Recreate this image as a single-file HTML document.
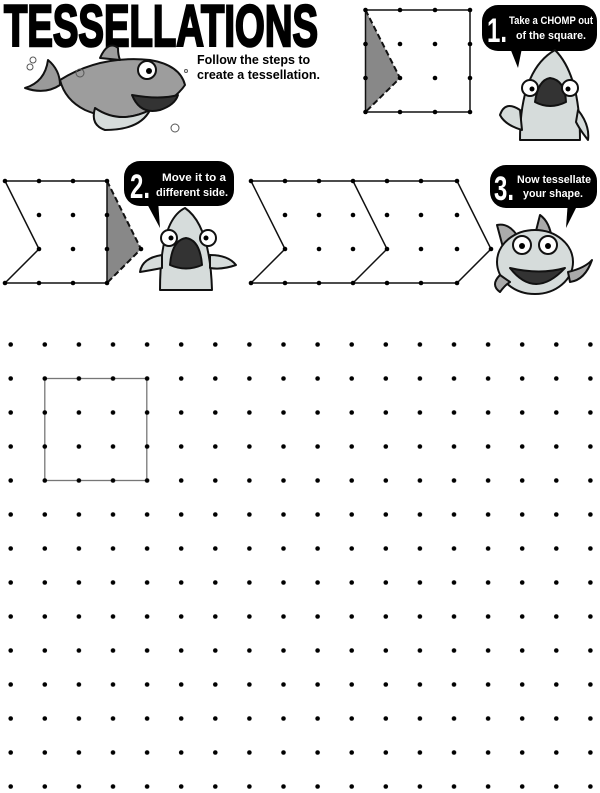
<!DOCTYPE html>
<html><head><meta charset="utf-8"><style>
html,body{margin:0;padding:0;background:#fff;}
svg{display:block}
text{font-family:"Liberation Sans",sans-serif}
</style></head><body>
<svg width="600" height="793" viewBox="0 0 600 793" xmlns="http://www.w3.org/2000/svg">
<defs>
<pattern id="g" x="-6.35" y="327.5" width="34.1" height="34" patternUnits="userSpaceOnUse">
<circle cx="17.05" cy="17" r="2.3" fill="#000"/>
</pattern>
</defs>
<!-- dot grid -->
<rect x="44.8" y="378.5" width="102" height="102" fill="none" stroke="#777" stroke-width="1.3"/>
<rect x="0" y="330" width="600" height="463" fill="url(#g)"/>

<!-- title -->
<text x="4" y="46" font-size="58" font-weight="bold" stroke="#000" stroke-width="2.5" textLength="314" lengthAdjust="spacingAndGlyphs">TESSELLATIONS</text>
<text x="197" y="64" font-size="12.5" font-weight="bold">Follow the steps to</text>
<text x="197" y="79" font-size="12.5" font-weight="bold">create a tessellation.</text>

<!-- shark 1 (swimming) -->
<g stroke="#111" stroke-width="2" stroke-linejoin="round">
<path d="M48 60 Q60 70 60 85 Q45 95 25 88 Q45 82 48 60Z" fill="#9a9a9a"/>
<path d="M60 80 Q100 55 150 60 Q180 65 185 85 Q175 100 150 110 Q120 125 85 110 Q65 100 60 80Z" fill="#9d9d9d"/>
<path d="M100 58 Q108 40 118 48 Q118 55 120 60Z" fill="#9d9d9d"/>
<path d="M95 108 Q120 125 150 110 Q140 130 105 130 Q90 125 95 108Z" fill="#d6dcdb"/>
<path d="M132 95 Q140 115 160 110 Q175 105 178 95 Q160 100 132 95Z" fill="#333"/>
<circle cx="147" cy="70" r="9" fill="#fff"/><circle cx="149" cy="71" r="3" fill="#000" stroke="none"/>
</g>
<g fill="none" stroke="#555" stroke-width="1"><circle cx="33" cy="60" r="3"/><circle cx="30" cy="67" r="3"/><circle cx="80" cy="73" r="4"/><circle cx="175" cy="128" r="4"/><circle cx="186" cy="71" r="1.5"/></g>

<!-- step 1 square -->
<polygon points="365.5,10 400,78 365.5,112" fill="#888"/>
<rect x="365.5" y="10" width="104.5" height="102" fill="none" stroke="#111" stroke-width="1.5"/>
<polyline points="365.5,10 400,78 365.5,112" fill="none" stroke="#111" stroke-width="2" stroke-dasharray="6,3"/>
<g fill="#000">
<circle cx="365.5" cy="10" r="2.3"/><circle cx="400" cy="10" r="2.3"/><circle cx="435" cy="10" r="2.3"/><circle cx="470" cy="10" r="2.3"/>
<circle cx="365.5" cy="44" r="2.3"/><circle cx="400" cy="44" r="2.3"/><circle cx="435" cy="44" r="2.3"/><circle cx="470" cy="44" r="2.3"/>
<circle cx="365.5" cy="78" r="2.3"/><circle cx="400" cy="78" r="2.3"/><circle cx="435" cy="78" r="2.3"/><circle cx="470" cy="78" r="2.3"/>
<circle cx="365.5" cy="112" r="2.3"/><circle cx="400" cy="112" r="2.3"/><circle cx="435" cy="112" r="2.3"/><circle cx="470" cy="112" r="2.3"/>
</g>

<!-- bubble 1 -->
<rect x="482" y="5" width="115" height="46" rx="16" fill="#000"/>
<polygon points="510,48 522,48 518,68" fill="#000"/>
<text x="487" y="42" font-size="34" font-weight="bold" fill="#fff" textLength="20" lengthAdjust="spacingAndGlyphs">1.</text>
<text x="509" y="24" font-size="11" font-weight="bold" fill="#fff" textLength="84" lengthAdjust="spacingAndGlyphs">Take a CHOMP out</text>
<text x="516" y="39" font-size="11" font-weight="bold" fill="#fff" textLength="70" lengthAdjust="spacingAndGlyphs">of the square.</text>

<!-- shark step1 -->
<g stroke="#111" stroke-width="2" stroke-linejoin="round">
<path d="M520 140 Q520 70 555 50 Q580 75 580 140Z" fill="#d6dcdb"/>
<path d="M520 110 Q505 100 500 115 Q505 125 522 130Z" fill="#d6dcdb"/>
<path d="M578 110 Q590 125 588 140 Q580 130 576 122Z" fill="#d6dcdb"/>
<path d="M535 102 Q538 80 550 78 Q565 80 566 102 Q550 110 535 102Z" fill="#333"/>
<circle cx="530" cy="88" r="8" fill="#fff"/><circle cx="570" cy="88" r="8" fill="#fff"/>
</g>
<circle cx="532" cy="89" r="2.5"/><circle cx="568" cy="89" r="2.5"/>

<!-- step 2 shape -->
<polygon points="107,181 141,249 107,283" fill="#888"/>
<polyline points="107,181 141,249 107,283" fill="none" stroke="#111" stroke-width="2" stroke-dasharray="6,3"/>
<polygon points="5,181 107,181 107,283 5,283 39,249" fill="none" stroke="#111" stroke-width="1.5"/>
<g fill="#000">
<circle cx="5" cy="181" r="2.3"/><circle cx="39" cy="181" r="2.3"/><circle cx="73" cy="181" r="2.3"/><circle cx="107" cy="181" r="2.3"/>
<circle cx="39" cy="215" r="2.3"/><circle cx="73" cy="215" r="2.3"/><circle cx="107" cy="215" r="2.3"/>
<circle cx="39" cy="249" r="2.3"/><circle cx="73" cy="249" r="2.3"/><circle cx="107" cy="249" r="2.3"/><circle cx="141" cy="249" r="2.3"/>
<circle cx="5" cy="283" r="2.3"/><circle cx="39" cy="283" r="2.3"/><circle cx="73" cy="283" r="2.3"/><circle cx="107" cy="283" r="2.3"/>
</g>

<!-- bubble 2 -->
<rect x="124" y="161" width="110" height="45" rx="16" fill="#000"/>
<polygon points="145,200 158,200 160,228" fill="#000"/>
<text x="130" y="198" font-size="34" font-weight="bold" fill="#fff" textLength="20" lengthAdjust="spacingAndGlyphs">2.</text>
<text x="162" y="181" font-size="11" font-weight="bold" fill="#fff" textLength="64" lengthAdjust="spacingAndGlyphs">Move it to a</text>
<text x="156" y="196" font-size="11" font-weight="bold" fill="#fff" textLength="72" lengthAdjust="spacingAndGlyphs">different side.</text>

<!-- shark step2 -->
<g stroke="#111" stroke-width="2" stroke-linejoin="round">
<path d="M160 290 Q160 220 185 208 Q210 225 212 290Z" fill="#d6dcdb"/>
<path d="M162 255 Q142 258 140 272 Q152 270 162 268Z" fill="#d6dcdb"/>
<path d="M210 255 Q228 255 236 265 Q222 270 210 268Z" fill="#d6dcdb"/>
<path d="M170 265 Q172 240 186 238 Q200 240 202 265 Q186 272 170 265Z" fill="#333"/>
<circle cx="169" cy="238" r="8" fill="#fff"/><circle cx="208" cy="238" r="8" fill="#fff"/>
</g>
<circle cx="171" cy="238" r="2.5"/><circle cx="206" cy="238" r="2.5"/>

<!-- step 3 chevrons -->
<g fill="none" stroke="#111" stroke-width="1.5">
<polyline points="251,181 457,181 491,249 457,283 251,283 285,249 251,181"/>
<polyline points="353,181 387,249 353,283"/>
</g>
<g fill="#000">
<circle cx="251" cy="181" r="2.3"/><circle cx="285" cy="181" r="2.3"/><circle cx="319" cy="181" r="2.3"/><circle cx="353" cy="181" r="2.3"/><circle cx="387" cy="181" r="2.3"/><circle cx="421" cy="181" r="2.3"/><circle cx="457" cy="181" r="2.3"/>
<circle cx="285" cy="215" r="2.3"/><circle cx="319" cy="215" r="2.3"/><circle cx="353" cy="215" r="2.3"/><circle cx="387" cy="215" r="2.3"/><circle cx="421" cy="215" r="2.3"/><circle cx="457" cy="215" r="2.3"/>
<circle cx="285" cy="249" r="2.3"/><circle cx="319" cy="249" r="2.3"/><circle cx="353" cy="249" r="2.3"/><circle cx="387" cy="249" r="2.3"/><circle cx="421" cy="249" r="2.3"/><circle cx="457" cy="249" r="2.3"/><circle cx="491" cy="249" r="2.3"/>
<circle cx="251" cy="283" r="2.3"/><circle cx="285" cy="283" r="2.3"/><circle cx="319" cy="283" r="2.3"/><circle cx="353" cy="283" r="2.3"/><circle cx="387" cy="283" r="2.3"/><circle cx="421" cy="283" r="2.3"/><circle cx="457" cy="283" r="2.3"/>
</g>

<!-- bubble 3 -->
<rect x="490" y="165" width="107" height="43" rx="16" fill="#000"/>
<polygon points="568,200 580,200 566,228" fill="#000"/>
<text x="494" y="200" font-size="34" font-weight="bold" fill="#fff" textLength="20" lengthAdjust="spacingAndGlyphs">3.</text>
<text x="517" y="183" font-size="11" font-weight="bold" fill="#fff" textLength="74" lengthAdjust="spacingAndGlyphs">Now tessellate</text>
<text x="523" y="197" font-size="11" font-weight="bold" fill="#fff" textLength="60" lengthAdjust="spacingAndGlyphs">your shape.</text>

<!-- shark step3 -->
<g stroke="#111" stroke-width="2" stroke-linejoin="round">
<path d="M497 225 Q510 222 520 240 L505 255Z" fill="#aaa"/>
<path d="M540 215 Q550 222 552 240 L535 235Z" fill="#aaa"/>
<ellipse cx="535" cy="262" rx="38" ry="32" fill="#d6dcdb"/>
<path d="M500 275 Q490 285 500 292 Q505 285 510 282Z" fill="#aaa"/>
<path d="M568 272 Q585 268 592 260 Q585 280 570 282Z" fill="#aaa"/>
<path d="M510 268 Q535 300 565 268 Q540 275 510 268Z" fill="#333"/>
<circle cx="522" cy="245" r="9" fill="#fff"/><circle cx="548" cy="245" r="9" fill="#fff"/>
</g>
<circle cx="522" cy="246" r="3"/><circle cx="548" cy="246" r="3"/>
</svg>
</body></html>
